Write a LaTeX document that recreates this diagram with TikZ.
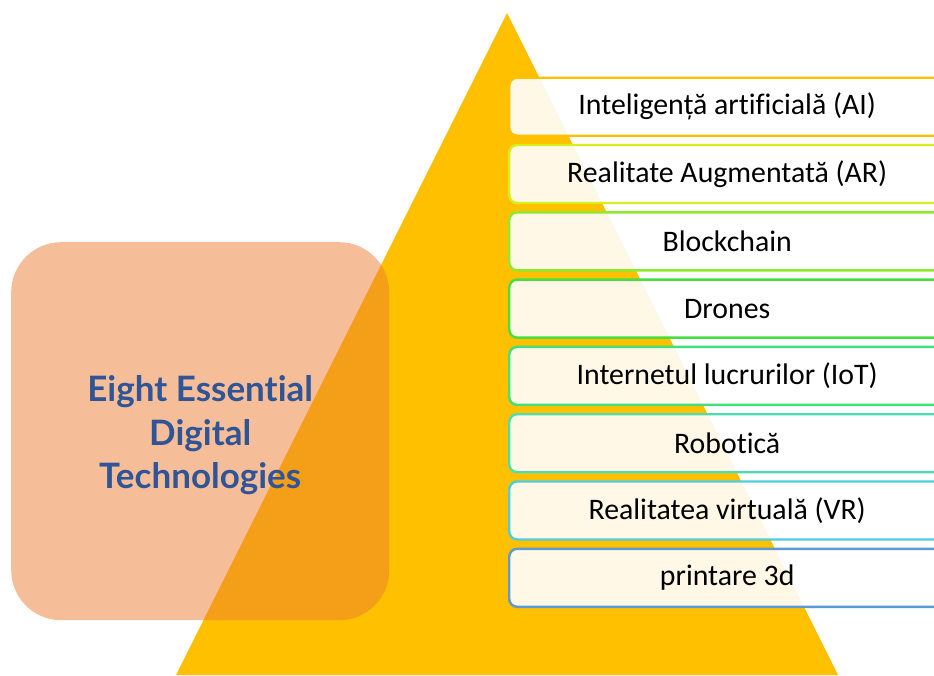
\documentclass[tikz,border=0pt]{standalone}
\usepackage{fontspec}
\setmainfont[Ligatures=CommonOff]{Carlito}
\newfontfamily\titlefont[Ligatures=CommonOff]{Lato}
\definecolor{tri}{HTML}{FFC000}
\definecolor{peach}{HTML}{ED7D31}
\definecolor{ttl}{HTML}{2F5597}
\definecolor{cA}{HTML}{FFC000}
\definecolor{cB}{HTML}{D6F01E}
\definecolor{cC}{HTML}{8EEB2C}
\definecolor{cD}{HTML}{45E040}
\definecolor{cE}{HTML}{40E07C}
\definecolor{cF}{HTML}{4CDEB2}
\definecolor{cG}{HTML}{4ECDE0}
\definecolor{cH}{HTML}{5B9BD5}
\tikzset{
  itembox/.style={draw=#1, line width=2.4pt, fill=white, fill opacity=0.9, text opacity=1,
    rounded corners=8pt, minimum width=436pt, minimum height=58pt, inner sep=0pt,
    anchor=north west, font=\fontsize{29.8}{32}\selectfont, text=black},
}
\begin{document}
\begin{tikzpicture}[x=1pt,y=-1pt]
\useasboundingbox (0,0) rectangle (934,675);
\clip (0,0) rectangle (934,675);
\fill[tri] (507,13) -- (838,675) -- (176,675) -- cycle;
\node[draw=none, fill=peach, fill opacity=0.5, rounded corners=50pt,
  minimum width=378pt, minimum height=378pt, inner sep=0pt, anchor=north west]
  (title) at (11,242) {};
\node[text=ttl, align=center, font=\titlefont\bfseries\fontsize{35}{43.5}\selectfont]
  (titletext) at ([yshift=-4pt]title.center) {Eight Essential\\Digital\\Technologies};
\node[itembox=cA] (b1) at (508,76.5) {Inteligență artificială (AI)};
\node[itembox=cB] (b2) at (508,143.8) {Realitate Augmentată (AR)};
\node[itembox=cC] (b3) at (508,211.1) {Blockchain};
\node[itembox=cD] (b4) at (508,278.4) {Drones};
\node[itembox=cE] (b5) at (508,345.7) {Internetul lucrurilor (IoT)};
\node[itembox=cF] (b6) at (508,413.0) {Robotică};
\node[itembox=cG] (b7) at (508,480.3) {Realitatea virtuală (VR)};
\node[itembox=cH] (b8) at (508,547.6) {printare 3d};
\end{tikzpicture}
\end{document}
